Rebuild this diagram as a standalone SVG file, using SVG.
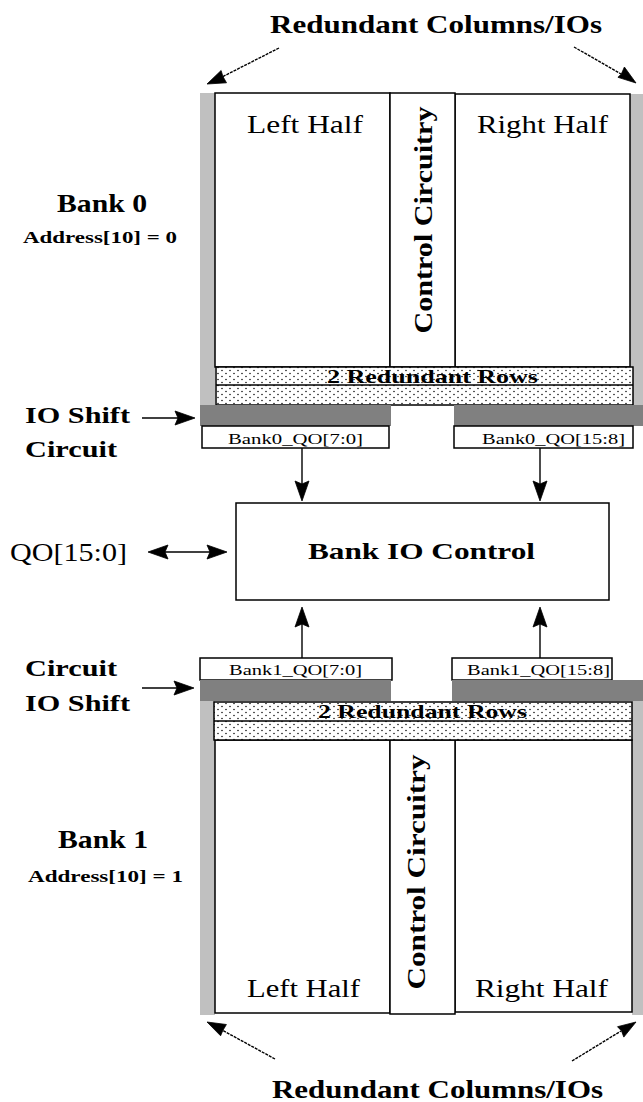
<svg xmlns="http://www.w3.org/2000/svg" width="643" height="1102" viewBox="0 0 643 1102">
<style>
.bold{font-family:"Liberation Serif","Times New Roman",serif;font-weight:bold;fill:#000}
.reg{font-family:"Liberation Serif","Times New Roman",serif;fill:#000}
.box{fill:#fff;stroke:#000;stroke-width:1.5}
.lg{fill:#c0c0c0}
.dg{fill:#808080}
.dots{fill:url(#dots);stroke:#000;stroke-width:1.5}
.conn{stroke:#000;stroke-width:1.4;fill:none}
.dash{stroke-dasharray:3,1}
.head{fill:#000;stroke:#000;stroke-width:0.8;stroke-linejoin:round}
</style>
<defs>
<pattern id="dots" width="8" height="6" patternUnits="userSpaceOnUse">
<rect width="8" height="6" fill="#fff"/>
<circle cx="2" cy="1.5" r="0.75" fill="#000"/>
<circle cx="6" cy="4.5" r="0.75" fill="#000"/>
</pattern>
</defs>

<text class="bold" x="270" y="33" font-size="26" textLength="332" lengthAdjust="spacingAndGlyphs">Redundant  Columns/IOs</text>
<text class="bold" x="272" y="1098" font-size="26" textLength="331" lengthAdjust="spacingAndGlyphs">Redundant  Columns/IOs</text>

<g id="bank0">
<rect class="lg" x="200" y="93" width="15" height="312"/>
<rect class="lg" x="630" y="94" width="13" height="311"/>
<rect id="bank0-left" class="box" x="215" y="93" width="175" height="274"/>
<rect id="bank0-right" class="box" x="455" y="94" width="175" height="273"/>
<rect id="bank0-ctrl" class="box" x="390" y="93" width="65" height="274"/>
<text class="reg" x="247" y="133" font-size="26" textLength="116" lengthAdjust="spacingAndGlyphs">Left  Half</text>
<text class="reg" x="477" y="133" font-size="26" textLength="131" lengthAdjust="spacingAndGlyphs">Right  Half</text>
<text class="bold" transform="translate(432,220) rotate(-90)" x="0" y="0" text-anchor="middle" font-size="26" textLength="227" lengthAdjust="spacingAndGlyphs">Control  Circuitry</text>
<rect id="bank0-rows" class="dots" x="216" y="367" width="417" height="38"/>
<line x1="216" y1="385" x2="633" y2="385" stroke="#000" stroke-width="1.5"/>
<text class="bold" x="327" y="383" font-size="19" textLength="211" lengthAdjust="spacingAndGlyphs">2 Redundant Rows</text>
<rect class="dg" x="200" y="405" width="191" height="21"/>
<rect class="dg" x="454" y="405" width="189" height="21"/>
</g>

<g id="bank0-qo-low">
<rect class="box" x="202" y="426" width="187" height="22"/>
<text class="reg" x="228" y="444" font-size="14" textLength="135" lengthAdjust="spacingAndGlyphs">Bank0_QO[7:0]</text>
</g>
<g id="bank0-qo-high">
<rect class="box" x="454" y="426" width="179" height="22"/>
<text class="reg" x="482" y="444" font-size="14" textLength="143" lengthAdjust="spacingAndGlyphs">Bank0_QO[15:8]</text>
</g>

<g id="bank-io-control">
<rect class="box" x="236" y="503" width="373" height="97"/>
<text class="bold" x="308" y="559" font-size="24" textLength="227" lengthAdjust="spacingAndGlyphs">Bank IO Control</text>
</g>

<g id="qo-label">
<text class="reg" x="10" y="561" font-size="26" textLength="117" lengthAdjust="spacingAndGlyphs">QO[15:0]</text>
</g>

<g id="bank1-qo-low">
<rect class="box" x="200" y="658" width="192" height="22"/>
<text class="reg" x="229" y="675" font-size="14" textLength="133" lengthAdjust="spacingAndGlyphs">Bank1_QO[7:0]</text>
</g>
<g id="bank1-qo-high">
<rect class="box" x="452" y="658" width="160" height="22"/>
<text class="reg" x="467" y="675" font-size="14" textLength="143" lengthAdjust="spacingAndGlyphs">Bank1_QO[15:8]</text>
</g>

<g id="bank1">
<rect class="dg" x="200" y="680" width="191" height="21"/>
<rect class="dg" x="452" y="680" width="191" height="21"/>
<rect class="lg" x="200" y="701" width="15" height="314"/>
<rect class="lg" x="632" y="701" width="11" height="314"/>
<rect id="bank1-left" class="box" x="215" y="740" width="175" height="273"/>
<rect id="bank1-right" class="box" x="455" y="740" width="177" height="272"/>
<rect id="bank1-ctrl" class="box" x="390" y="740" width="65" height="274"/>
<rect id="bank1-rows" class="dots" x="214" y="702" width="418" height="38"/>
<line x1="214" y1="721" x2="632" y2="721" stroke="#000" stroke-width="1.5"/>
<text class="bold" x="318" y="718" font-size="19" textLength="209" lengthAdjust="spacingAndGlyphs">2 Redundant Rows</text>
<text class="bold" transform="translate(425,872) rotate(-90)" x="0" y="0" text-anchor="middle" font-size="26" textLength="235" lengthAdjust="spacingAndGlyphs">Control  Circuitry</text>
<text class="reg" x="247" y="997" font-size="26" textLength="113" lengthAdjust="spacingAndGlyphs">Left  Half</text>
<text class="reg" x="475" y="997" font-size="26" textLength="133" lengthAdjust="spacingAndGlyphs">Right  Half</text>
</g>

<g id="labels">
<text class="bold" x="57" y="212" font-size="26" textLength="90" lengthAdjust="spacingAndGlyphs">Bank 0</text>
<text class="bold" x="23" y="243" font-size="17" textLength="154" lengthAdjust="spacingAndGlyphs">Address[10] = 0</text>
<text class="bold" x="25" y="423" font-size="24" textLength="105" lengthAdjust="spacingAndGlyphs">IO  Shift</text>
<text class="bold" x="25" y="457" font-size="24" textLength="92" lengthAdjust="spacingAndGlyphs">Circuit</text>
<text class="bold" x="25" y="676" font-size="24" textLength="92" lengthAdjust="spacingAndGlyphs">Circuit</text>
<text class="bold" x="25" y="711" font-size="24" textLength="105" lengthAdjust="spacingAndGlyphs">IO  Shift</text>
<text class="bold" x="58" y="848" font-size="26" textLength="90" lengthAdjust="spacingAndGlyphs">Bank 1</text>
<text class="bold" x="28" y="882" font-size="17" textLength="155" lengthAdjust="spacingAndGlyphs">Address[10] = 1</text>
</g>

<g id="connectors">
<line class="conn dash" x1="279" y1="48" x2="222" y2="77"/>
<path class="head" d="M207,84 L226.5,82.8 L222.9,76.4 L221.1,70.5 z"/>
<line class="conn dash" x1="574" y1="47" x2="621" y2="74"/>
<path class="head" d="M636,83 L617.9,77.3 L621.3,74.1 L624.4,67.0 z"/>
<line class="conn dash" x1="275" y1="1059" x2="222" y2="1030"/>
<path class="head" d="M207,1022 L226.4,1024.5 L222.8,1030.6 L220.6,1035.8 z"/>
<line class="conn dash" x1="572" y1="1061" x2="621" y2="1031"/>
<path class="head" d="M636,1022 L623.8,1037.1 L621.5,1030.9 L617.5,1026.7 z"/>

<line class="conn" x1="142" y1="418" x2="178" y2="418"/>
<path class="head" d="M195,418 L175,411 L178,418 L175,425 z"/>
<line class="conn" x1="142" y1="688" x2="177" y2="688"/>
<path class="head" d="M194,688 L174,681 L177,688 L174,695 z"/>

<line class="conn" x1="302" y1="448" x2="302" y2="484"/>
<path class="head" d="M302,501 L295,481 L302,484 L309,481 z"/>
<line class="conn" x1="540" y1="448" x2="540" y2="484"/>
<path class="head" d="M540,501 L533,481 L540,484 L547,481 z"/>

<line class="conn" x1="302" y1="658" x2="302" y2="624"/>
<path class="head" d="M302,607 L295,627 L302,624 L309,627 z"/>
<line class="conn" x1="540" y1="658" x2="540" y2="624"/>
<path class="head" d="M540,607 L533,627 L540,624 L547,627 z"/>

<line class="conn" x1="165" y1="552" x2="210" y2="552"/>
<path class="head" d="M148,552 L168,545 L165,552 L168,559 z"/>
<path class="head" d="M227,552 L207,545 L210,552 L207,559 z"/>
</g>
</svg>
